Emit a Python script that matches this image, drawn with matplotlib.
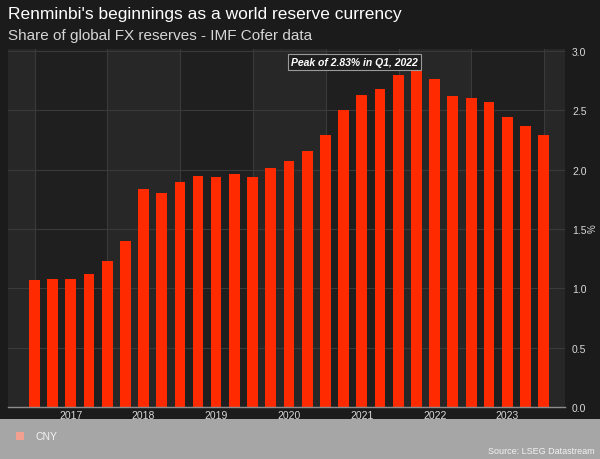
import matplotlib
matplotlib.use("Agg")
import matplotlib.pyplot as plt
import matplotlib.dates as mdates
from matplotlib.patches import Rectangle
import pandas as pd

plt.rcParams["font.family"] = ["Liberation Sans", "DejaVu Sans"]

# RMB share of allocated FX reserves, quarterly (IMF COFER)
quarters = ["2016Q4",
            "2017Q1", "2017Q2", "2017Q3", "2017Q4",
            "2018Q1", "2018Q2", "2018Q3", "2018Q4",
            "2019Q1", "2019Q2", "2019Q3", "2019Q4",
            "2020Q1", "2020Q2", "2020Q3", "2020Q4",
            "2021Q1", "2021Q2", "2021Q3", "2021Q4",
            "2022Q1", "2022Q2", "2022Q3", "2022Q4",
            "2023Q1", "2023Q2", "2023Q3", "2023Q4"]
share = [1.07,
         1.08, 1.08, 1.12, 1.23,
         1.40, 1.84, 1.80, 1.90,
         1.95, 1.94, 1.96, 1.94,
         2.01, 2.07, 2.16, 2.29,
         2.50, 2.63, 2.68, 2.80,
         2.83, 2.76, 2.62, 2.60,
         2.57, 2.44, 2.37, 2.29]
years = [2017, 2018, 2019, 2020, 2021, 2022, 2023]
y_ticks = [0.0, 0.5, 1.0, 1.5, 2.0, 2.5, 3.0]

BG = "#1b1b1b"
BAND_LIGHT, BAND_DARK = "#272727", "#1f1f1f"
RED = "#ff2a00"
TEXT = "#d8d8d8"
GRID = "#3a3a3a"

dates = [pd.Period(q, freq="Q").end_time.normalize() for q in quarters]

fig = plt.figure(figsize=(6, 4.6), dpi=100, facecolor=BG)
ax = fig.add_axes([8 / 600, 1 - 408 / 460, 557 / 600, 358 / 460])
ax.set_facecolor(BAND_LIGHT)

x0, x1 = pd.Timestamp("2016-08-20"), pd.Timestamp("2024-04-15")
ax.set_xlim(x0, x1)
ax.set_ylim(0, 3.017)

# alternating year bands
for yr in years:
    if yr % 2 == 1:
        ax.axvspan(pd.Timestamp(f"{yr}-01-01"), pd.Timestamp(f"{yr + 1}-01-01"),
                   color=BAND_DARK, zorder=0, lw=0)

ax.bar(dates, share, width=54, color=RED, zorder=3)

# peak annotation
pk = share.index(max(share))
ax.text(dates[pk] + pd.Timedelta(days=6), 2.905,
        f"Peak of {max(share):.2f}% in Q1, 2022", ha="right", va="center",
        fontsize=7.5, fontweight="bold", fontstyle="italic", color="white", zorder=5,
        bbox=dict(boxstyle="square,pad=0.3", facecolor="#1e1e1e",
                  edgecolor="#9a9a9a", linewidth=0.8))

# axes styling
ax.xaxis.set_major_locator(mdates.YearLocator(month=7, day=1))
ax.xaxis.set_major_formatter(mdates.DateFormatter("%Y"))
ax.xaxis.set_minor_locator(mdates.YearLocator(month=1, day=1))
ax.tick_params(axis="x", which="both", length=0, labelsize=7.5,
               labelcolor=TEXT, pad=2)
ax.grid(True, axis="x", which="minor", color=GRID, linewidth=0.8, zorder=1)
ax.yaxis.tick_right()
ax.set_yticks(y_ticks)
ax.set_yticklabels([f"{v:.1f}" for v in y_ticks])
ax.tick_params(axis="y", length=0, labelsize=7.5, labelcolor=TEXT, pad=5)
ax.grid(True, axis="y", color=GRID, linewidth=0.8, zorder=1)
ax.yaxis.set_label_position("right")
ax.set_ylabel("%", color=TEXT, fontsize=7, rotation=90, labelpad=1)
for s in ["top", "left", "right"]:
    ax.spines[s].set_visible(False)
ax.spines["bottom"].set_color("#8c8c8c")
ax.spines["bottom"].set_linewidth(1.0)
ax.spines["bottom"].set_zorder(4)

# titles
fig.text(8 / 600, 1 - 14 / 460, "Renminbi's beginnings as a world reserve currency",
         fontsize=12.5, color="white", va="center", ha="left")
fig.text(8 / 600, 1 - 36 / 460, "Share of global FX reserves - IMF Cofer data",
         fontsize=11, color="#d6d6d6", va="center", ha="left")

# legend strip
fig.patches.append(Rectangle((0, 0), 1, 40 / 460, transform=fig.transFigure,
                             facecolor="#a6a6a6", edgecolor="none", zorder=0))
fig.patches.append(Rectangle((16 / 600, 1 - 441 / 460), 8 / 600, 8 / 460,
                             transform=fig.transFigure, facecolor="#f4a090",
                             edgecolor="none", zorder=1))
fig.text(35 / 600, 1 - 437 / 460, "CNY", fontsize=7.5, color="#f2f2f2",
         va="center", ha="left")
fig.text(595 / 600, 1 - 452 / 460, "Source: LSEG Datastream", fontsize=6.5,
         color="#f2f2f2", va="center", ha="right")

fig.savefig("out.png", dpi=100, facecolor=BG)
